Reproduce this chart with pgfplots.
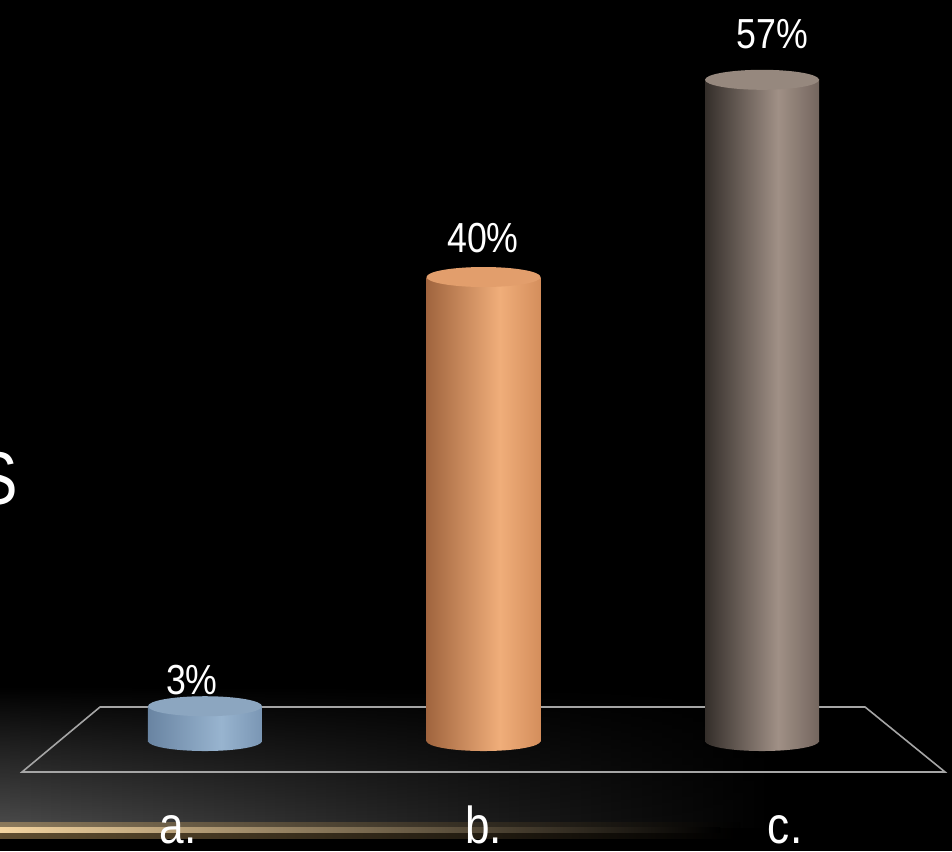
\documentclass[border=0pt]{standalone}
\usepackage{pgfplots}
\pgfplotsset{compat=1.18}
\usetikzlibrary{fadings}
\usepackage{fontspec}
\setmainfont{Liberation Sans}[FakeStretch=0.85]
\definecolor{aL}{RGB}{105,132,162}
\definecolor{aM}{RGB}{152,180,207}
\definecolor{aR}{RGB}{122,150,180}
\definecolor{aT}{RGB}{140,166,192}
\definecolor{bL}{RGB}{160,100,62}
\definecolor{bM}{RGB}{240,174,122}
\definecolor{bR}{RGB}{212,142,92}
\definecolor{bT}{RGB}{226,158,108}
\definecolor{cL}{RGB}{52,46,42}
\definecolor{cM}{RGB}{160,144,134}
\definecolor{cR}{RGB}{116,102,94}
\definecolor{cT}{RGB}{150,136,126}
\definecolor{gold}{RGB}{240,195,120}
\definecolor{floorline}{RGB}{165,165,165}
\pgfdeclarehorizontalshading{cylA}{100bp}{color(0bp)=(aL); color(25bp)=(aL); color(57bp)=(aM); color(75bp)=(aR); color(100bp)=(aR)}
\pgfdeclarehorizontalshading{cylB}{100bp}{color(0bp)=(bL); color(25bp)=(bL); color(57bp)=(bM); color(75bp)=(bR); color(100bp)=(bR)}
\pgfdeclarehorizontalshading{cylC}{100bp}{color(0bp)=(cL); color(25bp)=(cL); color(57bp)=(cM); color(75bp)=(cR); color(100bp)=(cR)}
\pgfdeclareplotmark{cylcap}{\pgfpathellipse{\pgfpointorigin}{\pgfqpoint{57pt}{0pt}}{\pgfqpoint{0pt}{10pt}}\pgfusepathqfill}
\pgfdeclareplotmark{botA}{\pgfpathellipse{\pgfpointorigin}{\pgfqpoint{57pt}{0pt}}{\pgfqpoint{0pt}{10pt}}\pgfshadepath{cylA}{0}\pgfusepath{}}
\pgfdeclareplotmark{botB}{\pgfpathellipse{\pgfpointorigin}{\pgfqpoint{57pt}{0pt}}{\pgfqpoint{0pt}{10pt}}\pgfshadepath{cylB}{0}\pgfusepath{}}
\pgfdeclareplotmark{botC}{\pgfpathellipse{\pgfpointorigin}{\pgfqpoint{57pt}{0pt}}{\pgfqpoint{0pt}{10pt}}\pgfshadepath{cylC}{0}\pgfusepath{}}
\begin{document}
\begin{tikzpicture}
\useasboundingbox (0pt,0pt) rectangle (952pt,851pt);
\clip (0pt,0pt) rectangle (952pt,851pt);
\fill[black] (0pt,0pt) rectangle (952pt,851pt);
% soft grey glow bottom-left
\shade[left color=black!70, right color=black, path fading=north] (0pt,23pt) rectangle (780pt,165pt);
% gold line
\shade[left color=gold, right color=black, opacity=0.4] (0pt,13pt) rectangle (740pt,29pt);
\shade[left color=gold!70!white, right color=black] (0pt,18.5pt) rectangle (720pt,23.5pt);
% stray title letter
\node[anchor=base east, inner sep=0pt, text=white, font=\fontsize{75}{80}\selectfont] at (18pt,346pt) {S};
\begin{axis}[
  at={(0pt,0pt)}, anchor=south west, scale only axis,
  width=952pt, height=851pt,
  xmin=-0.736, xmax=2.682, ymin=-9.48, ymax=63.88,
  axis line style={draw=none}, tick style={draw=none},
  ytick=\empty,
  xtick={-0.097,1,2.083}, xticklabels={a.,b.,c.},
  xticklabel style={text=white, font=\fontsize{52}{60}\selectfont, anchor=base, yshift=8pt},
  clip=false,
]
% floor outline
\addplot[color=floorline, line width=1.6pt, no marks] coordinates {(-0.377,2.93) (2.370,2.93) (2.657,-2.67) (-0.657,-2.67) (-0.377,2.93)};
% bar a
\addplot[only marks, mark=botA] coordinates {(0,0)};
\addplot[ybar, bar width=114pt, bar shift=0pt, draw=none, shading=cylA] coordinates {(0,3)};
\addplot[only marks, mark=cylcap, mark options={fill=aT}] coordinates {(0,3)};
% bar b
\addplot[only marks, mark=botB] coordinates {(1,0)};
\addplot[ybar, bar width=114pt, bar shift=0pt, draw=none, shading=cylB] coordinates {(1,40)};
\addplot[only marks, mark=cylcap, mark options={fill=bT}] coordinates {(1,40)};
% bar c
\addplot[only marks, mark=botC] coordinates {(2,0)};
\addplot[ybar, bar width=114pt, bar shift=0pt, draw=none, shading=cylC] coordinates {(2,57)};
\addplot[only marks, mark=cylcap, mark options={fill=cT}] coordinates {(2,57)};
% value labels
\node[anchor=base, text=white, font=\fontsize{42}{50}\selectfont] at (axis cs:-0.047,4.0) {3\%};
\node[anchor=base, text=white, font=\fontsize{42}{50}\selectfont] at (axis cs:0.998,42.07) {40\%};
\node[anchor=base, text=white, font=\fontsize{42}{50}\selectfont] at (axis cs:2.036,59.74) {57\%};
\end{axis}
\end{tikzpicture}
\end{document}
